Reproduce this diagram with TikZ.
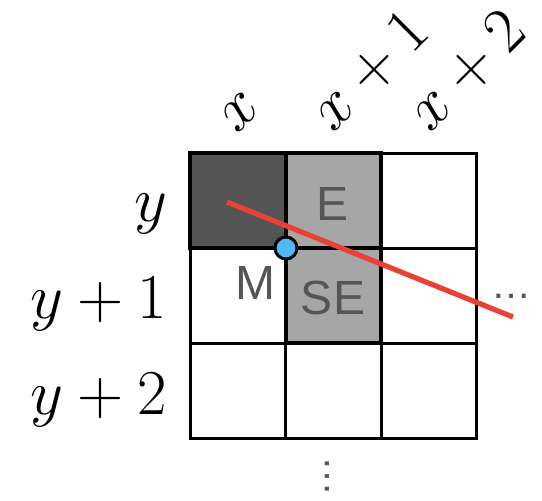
\RequirePackage{fix-cm}
\documentclass[tikz,border=0pt]{standalone}
\usepackage{fontspec}
\setsansfont{Liberation Sans}
\usetikzlibrary{positioning}
\definecolor{celldark}{RGB}{84,84,84}
\definecolor{cellgray}{RGB}{166,166,166}
\definecolor{lblgray}{RGB}{85,85,85}
\definecolor{linered}{RGB}{233,66,52}
\definecolor{dotblue}{RGB}{79,184,245}
\begin{document}
\begin{tikzpicture}[x=0.5pt,y=0.5pt,
    cell/.style={draw,line width=1.5pt},
    hcell/.style={draw,line width=2pt},
    mlbl/.style={font=\fontsize{32}{38}\selectfont},
    clbl/.style={font=\sffamily\fontsize{24}{28}\selectfont,text=lblgray},
    dots/.style={font=\sffamily\fontsize{20}{24}\selectfont,text=lblgray,inner sep=0pt}]
  \useasboundingbox (0,0) rectangle (542,-500);

  %% Grid
  \foreach \i in {0,1,2}
    \foreach \j in {0,1,2}
      \draw[cell] (190+95.5*\i,-153-95*\j) rectangle ++(95.5,-95);
  \draw[hcell,fill=celldark] (190,-153) rectangle (285.5,-248);
  \draw[hcell,fill=cellgray] (285.5,-153) rectangle (381,-248);
  \draw[hcell,fill=cellgray] (285.5,-248) rectangle (381,-343);

  %% Cell labels
  \node[clbl] (e)  at (333,-204) {E};
  \node[clbl] (m)  at (255,-283) {M};
  \node[clbl] (se) at (333,-298) {SE};

  %% Column labels
  \node[mlbl,rotate=45,anchor=base west] (x0) at (233,-139) {$x$};
  \node[mlbl,rotate=45,anchor=base west] (x1) at (329,-138) {$x+1$};
  \node[mlbl,rotate=45,anchor=base west] (x2) at (426,-138) {$x+2$};

  %% Row labels
  \node[mlbl,anchor=base east] (y0) at (174,-221) {$y$};
  \node[mlbl,anchor=base east] (y1) at (174,-318) {$y+1$};
  \node[mlbl,anchor=base east] (y2) at (174,-414) {$y+2$};

  %% Continuation
  \node[dots] (hd) at (511,-296) {…};
  \node[dots,rotate=90] (vd) at (327,-476) {…};

  %% Line and midpoint
  \coordinate (ls) at (227,-202);
  \coordinate (le) at (513,-317);
  \draw[linered,line width=2.6pt] (ls) -- (le);
  \node[circle,draw,line width=1.5pt,fill=dotblue,minimum size=11pt,inner sep=0pt] (mid) at (286,-248) {};
\end{tikzpicture}
\end{document}
